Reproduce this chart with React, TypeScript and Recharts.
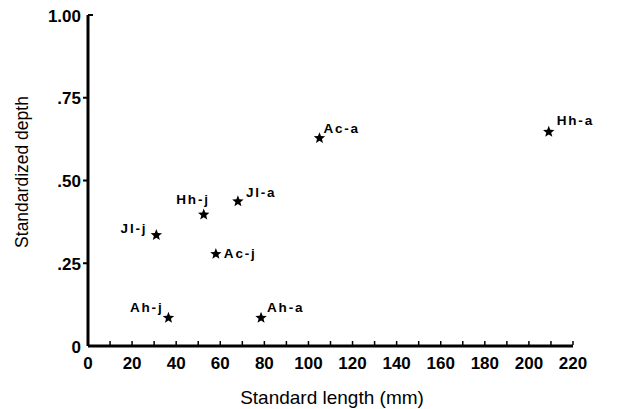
import React from 'react';
import { ScatterChart, Scatter, XAxis, YAxis } from 'recharts';

const speciesLabels = ['Jl-j', 'Hh-j', 'Jl-a', 'Ac-j', 'Ah-j', 'Ah-a', 'Ac-a', 'Hh-a'];
const standardLength = [31, 52.5, 68, 58, 36.5, 78.5, 105, 209];
const standardizedDepth = [0.335, 0.397, 0.437, 0.278, 0.085, 0.085, 0.628, 0.647];

const xTicks = [0, 10, 20, 30, 40, 50, 60, 70, 80, 90, 100, 110, 120, 130, 140, 150, 160, 170, 180, 190, 200, 210, 220];
const xLabeledTicks = [0, 20, 40, 60, 80, 100, 120, 140, 160, 180, 200, 220];
const yTicks = [0, 0.25, 0.5, 0.75, 1];
const yTickLabels = ['0', '.25', '.50', '.75', '1.00'];

const labelPlacement: Record<string, { dx: number; dy: number; anchor: 'start' | 'end' }> = {
  'Jl-j': { dx: -9, dy: -7, anchor: 'end' },
  'Hh-j': { dx: 6, dy: -15, anchor: 'end' },
  'Jl-a': { dx: 8, dy: -9, anchor: 'start' },
  'Ac-j': { dx: 8, dy: 0, anchor: 'start' },
  'Ah-j': { dx: -5, dy: -10, anchor: 'end' },
  'Ah-a': { dx: 6, dy: -10, anchor: 'start' },
  'Ac-a': { dx: 4, dy: -10, anchor: 'start' },
  'Hh-a': { dx: 8, dy: -11, anchor: 'start' },
};

const data = speciesLabels.map((name, i) => ({ name, x: standardLength[i], y: standardizedDepth[i] }));

function starPoints(cx: number, cy: number, R: number, r: number): string {
  const pts: string[] = [];
  for (let i = 0; i < 10; i++) {
    const ang = -Math.PI / 2 + (i * Math.PI) / 5;
    const rad = i % 2 === 0 ? R : r;
    pts.push(`${cx + rad * Math.cos(ang)},${cy + rad * Math.sin(ang)}`);
  }
  return pts.join(' ');
}

const StarShape = (props: any) => {
  const { cx, cy, payload } = props;
  const p = labelPlacement[payload.name];
  return (
    <g>
      <polygon points={starPoints(cx, cy, 6, 2.6)} fill="#000" />
      <text
        x={cx + p.dx}
        y={cy + p.dy}
        textAnchor={p.anchor}
        dominantBaseline="central"
        fontFamily="'Liberation Sans', Arial, sans-serif"
        fontWeight="bold"
        fontSize={13.5}
        letterSpacing={1.8}
        fill="#000"
      >
        {payload.name}
      </text>
    </g>
  );
};

const XTick = (props: any) => {
  const { x, y, payload } = props;
  const labeled = xLabeledTicks.includes(payload.value);
  return (
    <g>
      <line x1={x} x2={x} y1={y - 1} y2={y - 5} stroke="#000" strokeWidth={1.5} />
      {labeled && (
        <text
          x={x}
          y={y + 17}
          textAnchor="middle"
          dominantBaseline="central"
          fontFamily="'Liberation Sans', Arial, sans-serif"
          fontWeight="bold"
          fontSize={17}
          fill="#000"
        >
          {payload.value}
        </text>
      )}
    </g>
  );
};

const YTick = (props: any) => {
  const { x, y, payload } = props;
  const idx = yTicks.indexOf(payload.value);
  const isTop = idx === yTicks.length - 1;
  return (
    <g>
      {idx > 0 && (
        <line x1={isTop ? x : x - 5} x2={isTop ? x + 5 : x} y1={y} y2={y} stroke="#000" strokeWidth={2} />
      )}
      <text
        x={x - 7}
        y={y + 1}
        textAnchor="end"
        dominantBaseline="central"
        fontFamily="'Liberation Sans', Arial, sans-serif"
        fontWeight="bold"
        fontSize={17}
        fill="#000"
      >
        {yTickLabels[idx]}
      </text>
    </g>
  );
};

export default function App() {
  return (
    <div style={{ position: 'absolute', left: 0, top: 0, width: 626, height: 409, background: '#fff' }}>
      <ScatterChart width={626} height={409} margin={{ top: 15, right: 53, bottom: 0, left: 0 }}>
        <XAxis
          type="number"
          dataKey="x"
          domain={[0, 220]}
          ticks={xTicks}
          interval={0}
          tickSize={0}
          tickMargin={0}
          tickLine={false}
          axisLine={{ stroke: '#000', strokeWidth: 3 }}
          tick={<XTick />}
          height={63}
        />
        <YAxis
          type="number"
          dataKey="y"
          domain={[0, 1]}
          ticks={yTicks}
          interval={0}
          tickSize={0}
          tickMargin={0}
          tickLine={false}
          axisLine={{ stroke: '#000', strokeWidth: 3 }}
          tick={<YTick />}
          width={88}
        />
        <Scatter data={data} shape={<StarShape />} isAnimationActive={false} />
      </ScatterChart>
      <div
        style={{
          position: 'absolute',
          left: 332,
          top: 398,
          transform: 'translate(-50%, -50%)',
          whiteSpace: 'nowrap',
          fontFamily: "'Liberation Sans', Arial, sans-serif",
          fontSize: 19,
          color: '#000',
        }}
      >
        Standard length (mm)
      </div>
      <div
        style={{
          position: 'absolute',
          left: 22,
          top: 172,
          transform: 'translate(-50%, -50%) rotate(-90deg)',
          whiteSpace: 'nowrap',
          fontFamily: "'Liberation Sans', Arial, sans-serif",
          fontSize: 17.5,
          color: '#000',
        }}
      >
        Standardized depth
      </div>
    </div>
  );
}
